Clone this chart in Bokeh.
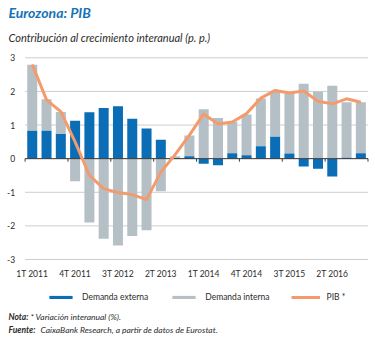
import numpy as np
from bokeh.plotting import figure
from bokeh.models import Label, Legend, LegendItem, ColumnDataSource
from bokeh.core.properties import value
from bokeh.embed import file_html
from bokeh.resources import INLINE

# ---------------- data ----------------
quarters = ["1T 2011", "2T 2011", "3T 2011", "4T 2011",
            "1T 2012", "2T 2012", "3T 2012", "4T 2012",
            "1T 2013", "2T 2013", "3T 2013", "4T 2013",
            "1T 2014", "2T 2014", "3T 2014", "4T 2014",
            "1T 2015", "2T 2015", "3T 2015", "4T 2015",
            "1T 2016", "2T 2016", "3T 2016", "4T 2016"]
demanda_externa = [0.83, 0.83, 0.73, 1.13, 1.38, 1.51, 1.56, 1.19,
                   0.90, 0.56, 0.02, 0.07, -0.15, -0.20, 0.16, 0.10,
                   0.37, 0.65, 0.15, -0.23, -0.30, -0.53, 0.03, 0.16]
demanda_interna = [1.96, 0.94, 0.66, -0.67, -1.90, -2.38, -2.58, -2.30,
                   -2.13, -0.97, 0.05, 0.62, 1.47, 1.21, 0.94, 1.21,
                   1.42, 1.33, 1.78, 2.23, 2.00, 2.17, 1.65, 1.52]
pib = [2.80, 1.75, 1.40, 0.50, -0.50, -0.89, -1.01, -1.07,
       -1.22, -0.40, 0.12, 0.70, 1.33, 1.03, 1.09, 1.34,
       1.80, 2.03, 1.95, 2.01, 1.71, 1.63, 1.78, 1.68]
y_ticks = [-3, -2, -1, 0, 1, 2, 3]
y_tick_labels = ["-3", "-2", "-1", "0", "1", "2", "3"]
label_step = 3

BLUE = "#0b6db5"
GREY = "#b5c0c6"
ORANGE = "#f39b6c"
TITLE_BLUE = "#1672b9"
TEXT = "#2b2b2b"
FONT = "Lato"

# ---------------- derived ----------------
n = len(quarters)
x = np.arange(n)
ext = np.array(demanda_externa)
itn = np.array(demanda_interna)
same = np.sign(ext) == np.sign(itn)
int_bottom = np.where(same, ext, 0.0)
int_top = int_bottom + itn
src = ColumnDataSource(dict(x=x, eb=np.zeros(n), et=ext, ib=int_bottom, it=int_top, pib=pib))

# plot area in canvas pixels: x 24.6..367.5, y(3)=57.3, y(-3)=259
W, H = 375, 338
left_px, right_px, top_px, bot_px = 24.6, 367.5, 57.3, 259.0
ux = (right_px - left_px) / n
uy = (bot_px - top_px) / 6.0
x_start = -0.5 - left_px / ux
x_end = n - 0.5 + (W - right_px) / ux
y_end = 3 + top_px / uy
y_start = -3 - (H - bot_px) / uy

p = figure(width=W, height=H, x_range=(x_start, x_end), y_range=(y_start, y_end),
           output_backend="svg", toolbar_location=None,
           x_axis_type=None, y_axis_type=None,
           min_border=0, min_border_left=0, min_border_right=0,
           min_border_top=0, min_border_bottom=0)
p.title.visible = False
p.outline_line_color = None
p.background_fill_color = "white"
p.border_fill_color = "white"
p.xgrid.visible = False
p.ygrid.visible = False

# grid lines
yt = np.array(y_ticks, dtype=float)
p.segment(x0=np.full_like(yt, -0.5), x1=np.full_like(yt, n - 0.5), y0=yt, y1=yt,
          line_color="#cdcdcd", line_width=1)

r_int = p.vbar(x="x", width=0.7, bottom="ib", top="it", source=src, fill_color=GREY, line_color=None)
r_ext = p.vbar(x="x", width=0.7, bottom="eb", top="et", source=src, fill_color=BLUE, line_color=None)

# zero line and small ticks at label boundaries
p.segment(x0=[-0.5], x1=[n - 0.5], y0=[0], y1=[0], line_color="#3c3c3c", line_width=1)
bounds = np.arange(0, n + 1, label_step) - 0.5
p.segment(x0=bounds, y0=np.zeros_like(bounds), x1=bounds, y1=np.full_like(bounds, -0.09),
          line_color="#3c3c3c", line_width=1)

r_pib = p.line(x="x", y="pib", source=src, line_color=ORANGE, line_width=3, line_join="round")

# axis labels
p.text(x=np.full_like(yt, -0.5), y=yt, text=y_tick_labels, x_offset=-10,
       text_font=value(FONT), text_font_size="8.5px", text_color=TEXT,
       text_align="right", text_baseline="middle")
tick_idx = np.arange(0, n, label_step)
p.text(x=tick_idx, y=np.full(len(tick_idx), -3.0), text=[quarters[i] for i in tick_idx],
       y_offset=14, text_font=value(FONT), text_font_size="8.5px", text_color=TEXT,
       text_align="center", text_baseline="middle")

# legend
legend = Legend(items=[LegendItem(label="Demanda externa", renderers=[r_ext]),
                       LegendItem(label="Demanda interna", renderers=[r_int]),
                       LegendItem(label="PIB *", renderers=[r_pib])],
                orientation="horizontal", location=(46, 36),
                glyph_width=29, glyph_height=4, label_standoff=7, spacing=21,
                label_text_font=FONT, label_text_font_size="8.5px", label_text_color=TEXT,
                border_line_color=None, background_fill_alpha=0, padding=0, margin=0)
p.add_layout(legend, "center")

# titles and notes (screen units from the bottom-left of the canvas-sized frame)
def lab(xs, ys, text, size, style, color=TEXT):
    p.add_layout(Label(x=xs, y=ys, x_units="screen", y_units="screen", text=text,
                       text_font=FONT, text_font_size=size, text_font_style=style,
                       text_color=color, text_baseline="middle", text_align="left"))

lab(8, 326, "Eurozona: PIB", "14px", "bold italic", TITLE_BLUE)
lab(8, 301, "Contribución al crecimiento interanual (p. p.)", "11px", "italic")
lab(8, 22, "Nota:", "8.5px", "bold italic")
lab(30, 22, "* Variación interanual (%).", "8.5px", "italic")
lab(8, 9, "Fuente:", "8.5px", "bold italic")
lab(40, 9, "CaixaBank Research, a partir de datos de Eurostat.", "8.5px", "italic")

open("out.html", "w").write(file_html(p, INLINE))
